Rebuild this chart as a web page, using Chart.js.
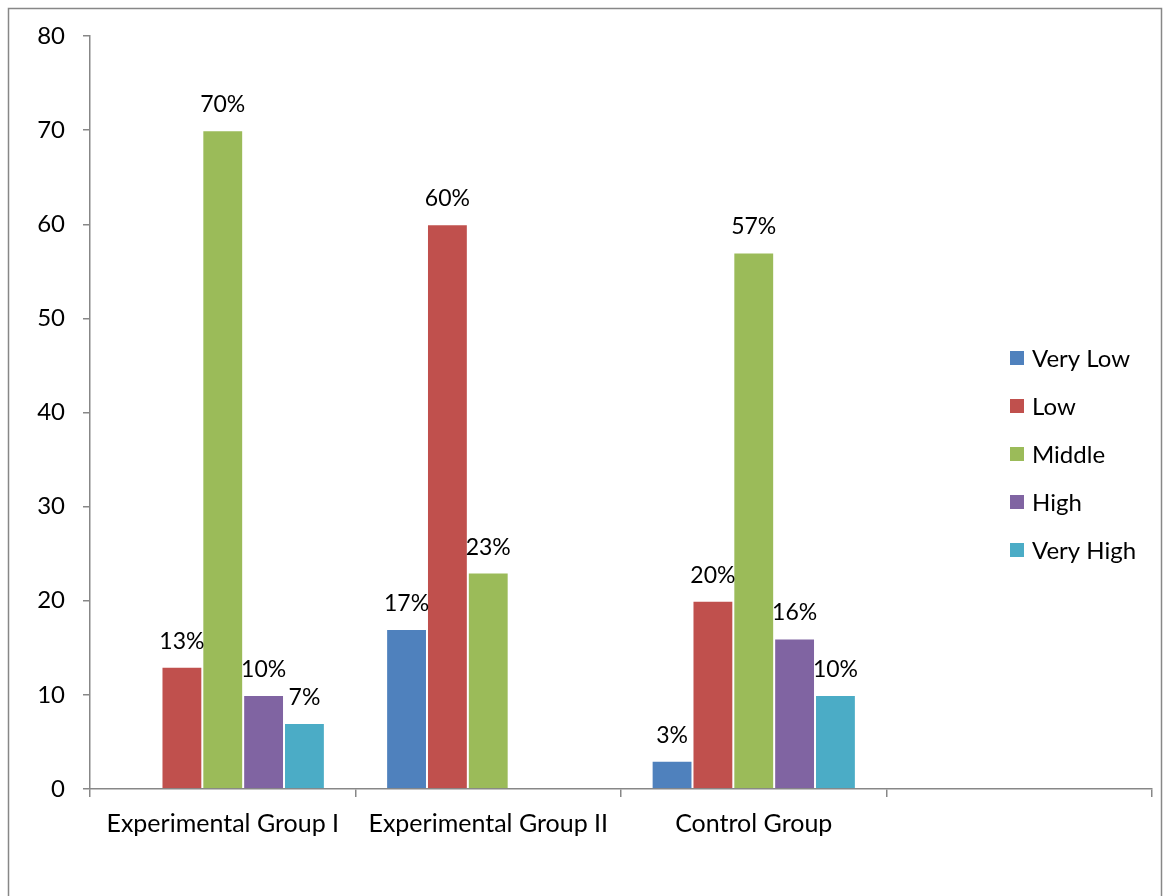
<!DOCTYPE html>
<html>
<head>
<meta charset="utf-8">
<script src="https://cdn.jsdelivr.net/npm/chart.js@4"></script>
<style>
  html, body { margin: 0; padding: 0; background: #fff; }
  #wrap { width: 1163px; height: 896px; position: relative; }
</style>
</head>
<body>
<div id="wrap"><canvas id="myChart"></canvas></div>
<script>
// groups along the x axis (the last slot is left empty)
const groups = ['Experimental Group I', 'Experimental Group II', 'Control Group', ''];

// percentages per level, null where no bar is drawn
const veryLow  = [null, 17, 3, null];
const low      = [13, 60, 20, null];
const middle   = [70, 23, 57, null];
const high     = [10, null, 16, null];
const veryHigh = [7, null, 10, null];

const levelNames  = ['Very Low', 'Low', 'Middle', 'High', 'Very High'];
const levelColors = ['#4F81BD', '#C0504D', '#9BBB59', '#8064A2', '#4BACC6'];

const yTicks = [0, 10, 20, 30, 40, 50, 60, 70, 80];

const FONT = 'Lato, "Noto Sans", sans-serif';
const AXIS_GREY = '#878787';

// value labels above the bars
const barLabels = {
    id: 'barLabels',
    afterDatasetsDraw(chart) {
        const ctx = chart.ctx;
        ctx.save();
        ctx.font = '23px ' + FONT;
        ctx.fillStyle = '#000';
        ctx.textAlign = 'center';
        ctx.textBaseline = 'alphabetic';
        chart.data.datasets.forEach((ds, i) => {
            chart.getDatasetMeta(i).data.forEach((bar, j) => {
                const v = ds.data[j];
                if (v == null) return;
                ctx.fillText(v + '%', bar.x, bar.y - 18);
            });
        });
        ctx.restore();
    }
};

// legend drawn on top of the empty right-hand slot
const sideLegend = {
    id: 'sideLegend',
    afterDraw(chart) {
        const ctx = chart.ctx;
        ctx.save();
        ctx.font = '24px ' + FONT;
        ctx.textBaseline = 'middle';
        ctx.textAlign = 'left';
        chart.data.datasets.forEach((ds, i) => {
            const y = 358 + i * 48;
            ctx.fillStyle = ds.backgroundColor;
            ctx.fillRect(1010, y - 7, 14, 14);
            ctx.fillStyle = '#000';
            ctx.fillText(ds.label, 1032, y + 1);
        });
        ctx.restore();
    }
};

// outer frame around the whole chart
const frame = {
    id: 'frame',
    beforeDraw(chart) {
        const ctx = chart.ctx;
        ctx.save();
        ctx.strokeStyle = AXIS_GREY;
        ctx.lineWidth = 1.5;
        ctx.strokeRect(8.5, 8.5, 1153, 920);
        ctx.restore();
    }
};

const seriesData = [veryLow, low, middle, high, veryHigh];

new Chart(document.getElementById('myChart'), {
    type: 'bar',
    data: {
        labels: groups,
        datasets: levelNames.map((name, i) => ({
            label: name,
            data: seriesData[i],
            backgroundColor: levelColors[i],
            borderColor: 'rgba(255,255,255,0.35)',
            borderWidth: 1,
            barPercentage: 1,
            categoryPercentage: 5 / 6.5
        }))
    },
    options: {
        responsive: true,
        maintainAspectRatio: false,
        animation: false,
        layout: { padding: { top: 36, right: 11, left: 0, bottom: 0 } },
        plugins: {
            legend: { display: false },
            tooltip: { enabled: false }
        },
        scales: {
            x: {
                afterFit: s => { s.height = 107; },
                grid: {
                    offset: true,
                    drawOnChartArea: false,
                    drawTicks: true,
                    tickLength: 8,
                    color: AXIS_GREY,
                    lineWidth: 1.5
                },
                border: { color: AXIS_GREY, width: 1.5 },
                ticks: {
                    color: '#000',
                    padding: 12,
                    maxRotation: 0,
                    font: { family: FONT, size: 25 }
                }
            },
            y: {
                min: 0,
                max: 80,
                afterFit: s => { s.width = 90; },
                afterBuildTicks: s => { s.ticks = yTicks.map(v => ({ value: v })); },
                grid: {
                    drawOnChartArea: false,
                    drawTicks: true,
                    tickLength: 7,
                    color: AXIS_GREY,
                    lineWidth: 1.5
                },
                border: { color: AXIS_GREY, width: 1.5 },
                ticks: {
                    color: '#000',
                    padding: 18,
                    font: { family: FONT, size: 24 }
                }
            }
        }
    },
    plugins: [barLabels, sideLegend, frame]
});
</script>
</body>
</html>
